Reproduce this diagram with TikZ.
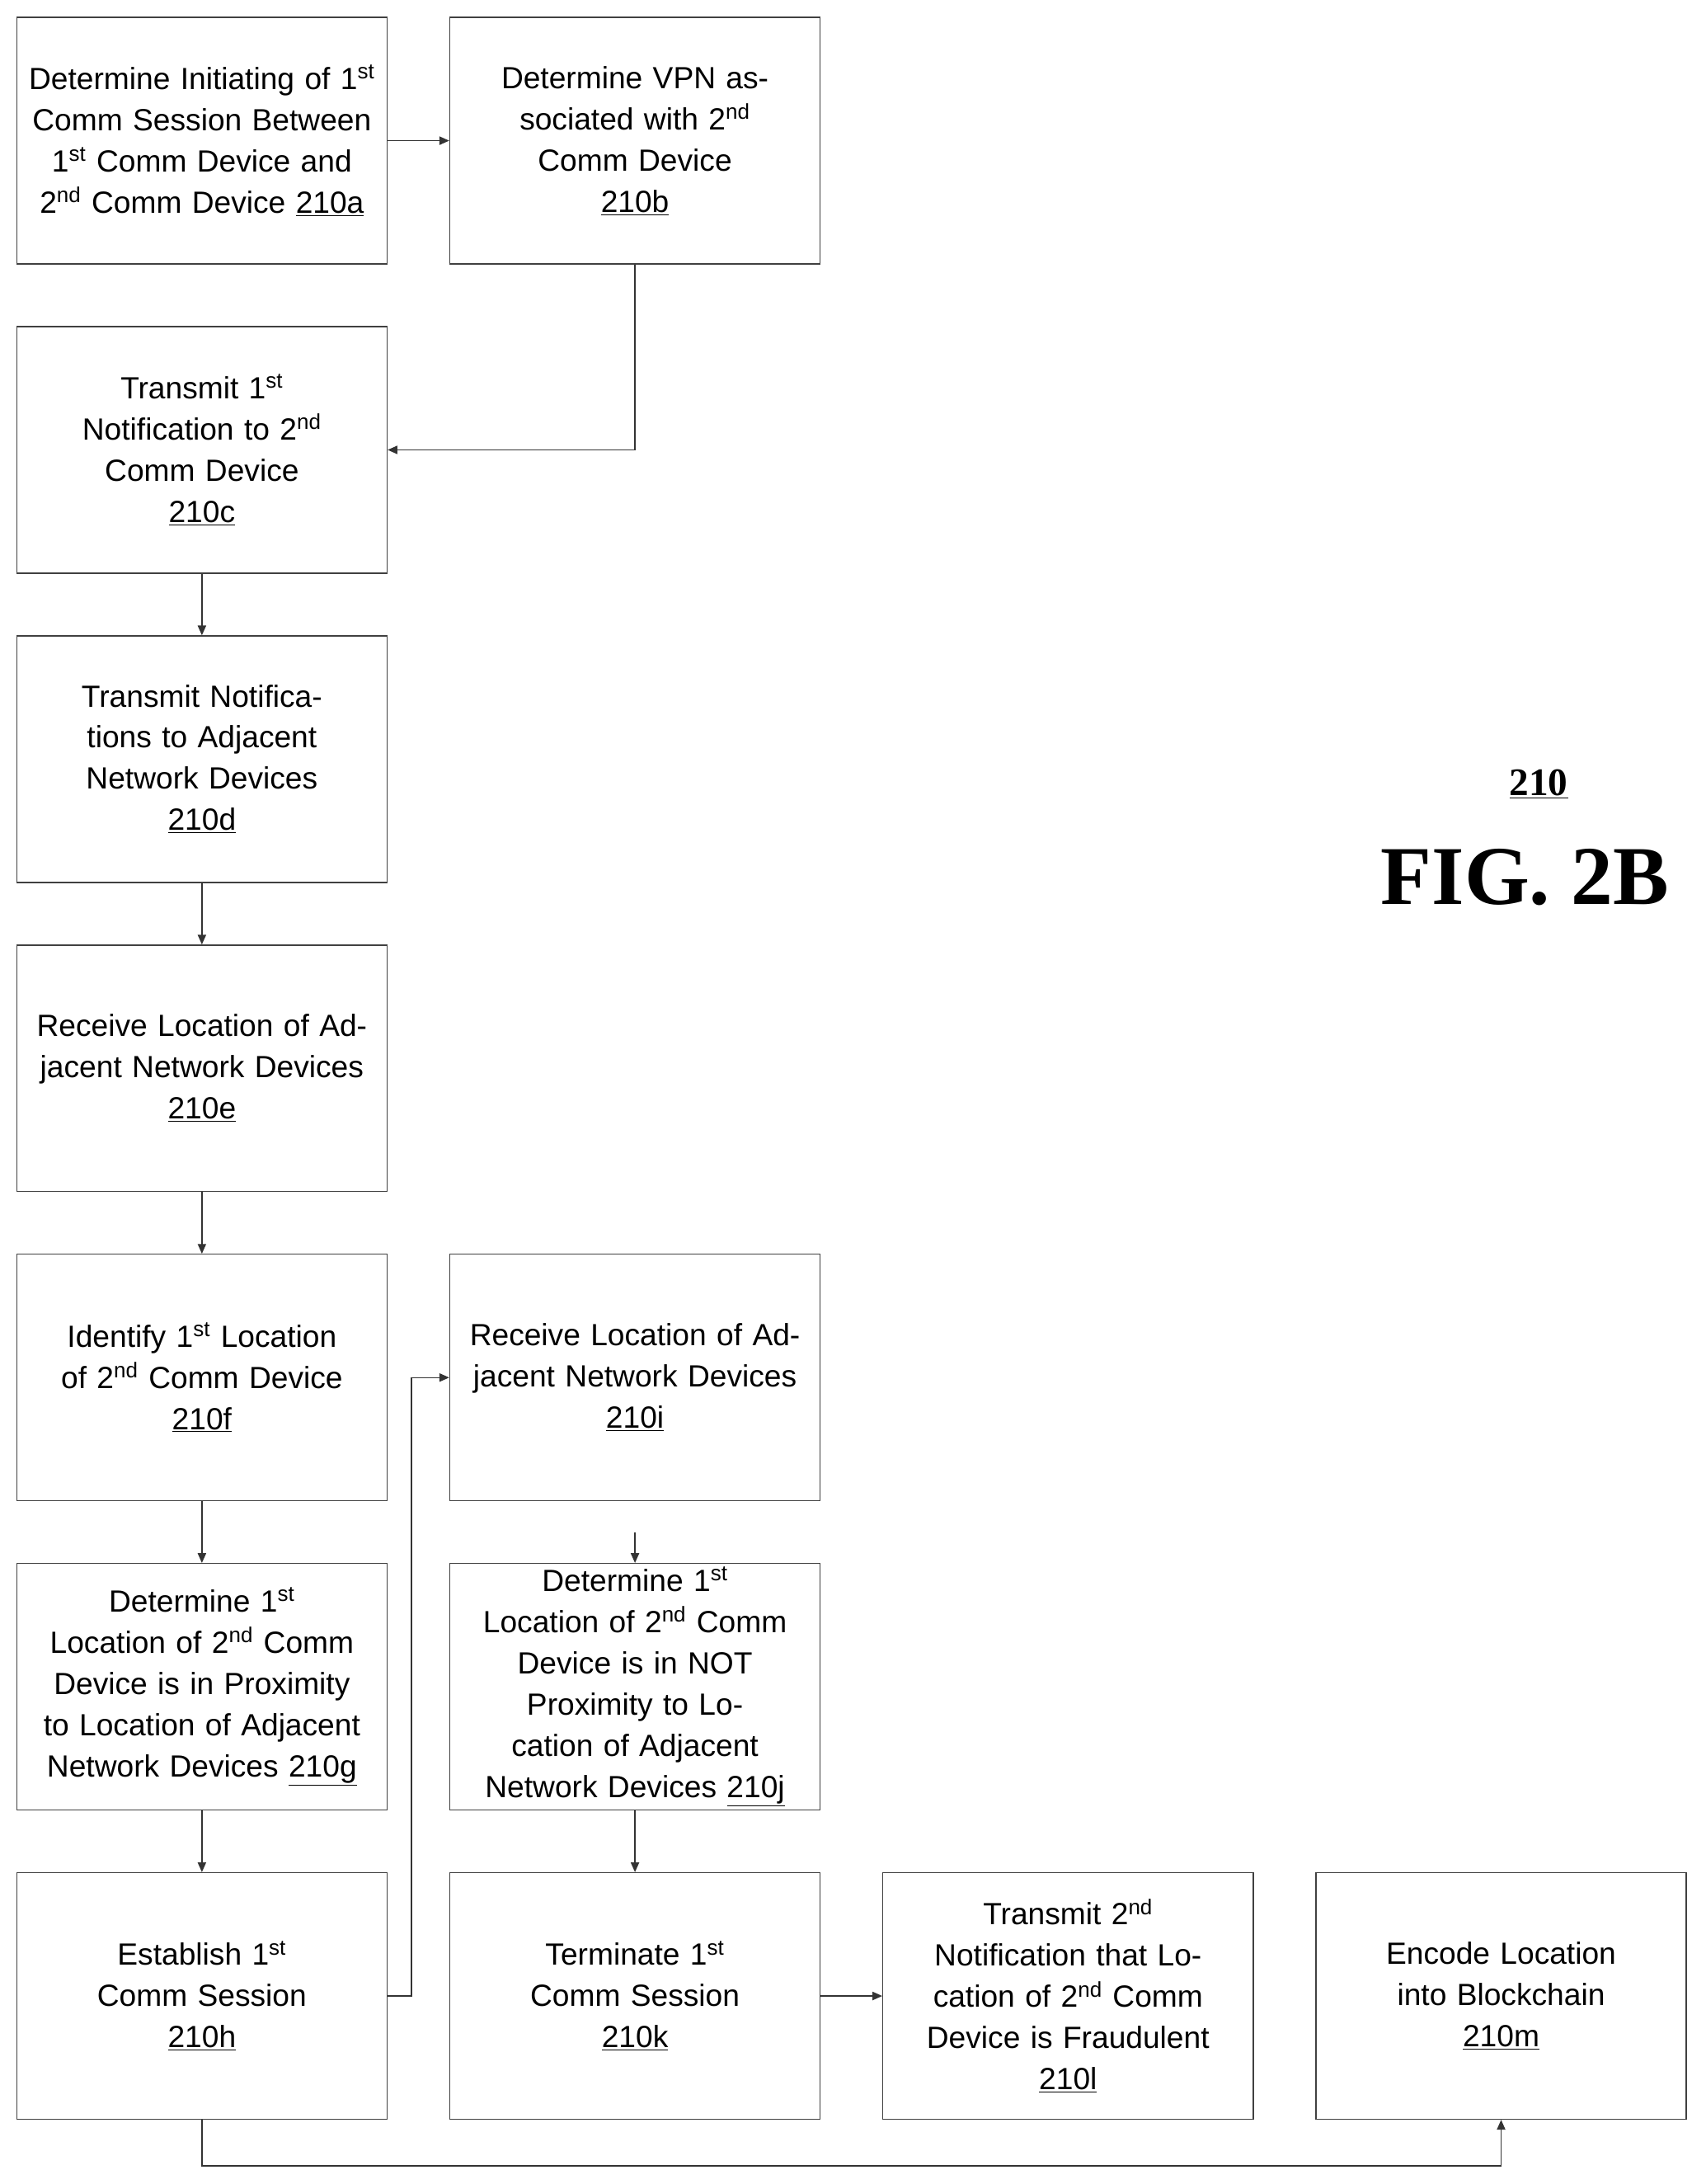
\documentclass[tikz,border=0pt]{standalone}
\usepackage{fontspec}
\setmainfont{Liberation Sans}
\newfontfamily\serifb{Liberation Serif}
\usetikzlibrary{arrows.meta}
\newcommand{\sps}[1]{\textsuperscript{#1}}
\newcommand{\uln}[1]{\underline{#1}}
\begin{document}
\begin{tikzpicture}[x=1pt,y=-1pt,
 box/.style={draw=black!75,line width=0.8pt,minimum width=266pt,minimum height=177pt,text width=250pt,align=center,inner sep=0pt,font=\fontsize{22}{29.6}\selectfont},
 ar/.style={draw=black!80,line width=0.8pt,-{Triangle[length=7pt,width=6pt]}}]
\useasboundingbox (0,0) rectangle (1225,1568);
\node[box] (a) at (145,101) {Determine Initiating of 1\sps{st} Comm Session Between 1\sps{st} Comm Device and 2\sps{nd} Comm Device \uln{210a}};
\node[box] (b) at (456,101) {Determine VPN associated with 2\sps{nd}\\ Comm Device\\ \uln{210b}};
\node[box] (c) at (145,323) {Transmit 1\sps{st}\\ Notification to 2\sps{nd}\\ Comm Device\\ \uln{210c}};
\node[box] (d) at (145,545) {Transmit Notifications to Adjacent Network Devices\\ \uln{210d}};
\node[box] (e) at (145,767) {Receive Location of Adjacent Network Devices\\ \uln{210e}};
\node[box] (f) at (145,989) {Identify 1\sps{st} Location of 2\sps{nd} Comm Device\\ \uln{210f}};
\node[box] (i) at (456,989) {Receive Location of Adjacent Network Devices\\ \uln{210i}};
\node[box] (g) at (145,1211) {Determine 1\sps{st}\\ Location of 2\sps{nd} Comm Device is in Proximity to Location of Adjacent Network Devices \uln{210g}};
\node[box] (j) at (456,1211) {Determine 1\sps{st}\\ Location of 2\sps{nd} Comm Device is in NOT Proximity to Location of Adjacent Network Devices \uln{210j}};
\node[box] (h) at (145,1433) {Establish 1\sps{st} Comm Session\\ \uln{210h}};
\node[box] (k) at (456,1433) {Terminate 1\sps{st} Comm Session\\ \uln{210k}};
\node[box] (l) at (767,1433) {Transmit 2\sps{nd}\\ Notification that Location of 2\sps{nd} Comm Device is Fraudulent\\ \uln{210l}};
\node[box] (m) at (1078,1433) {Encode Location into Blockchain\\ \uln{210m}};
\node[font=\serifb\bfseries\fontsize{28}{30}\selectfont] (lab) at (1105,563) {\uln{210}};
\node[font=\serifb\bfseries\fontsize{60}{64}\selectfont] (fig) at (1095,630) {FIG. 2B};
\draw[ar] (a) -- (b);
\draw[ar] (b.south) |- (c.east);
\draw[ar] (c) -- (d);
\draw[ar] (d) -- (e);
\draw[ar] (e) -- (f);
\draw[ar] (f) -- (g);
\draw[ar] (g) -- (h);
\draw[ar] (h.east) -- ++(17,0) |- (i.west);
\draw[ar] ([yshift=-22pt]i.south) -- (j.north);
\draw[ar] (j) -- (k);
\draw[ar] (k) -- (l);
\draw[ar] (h.south) -- ++(0,33) -| (m.south);
\end{tikzpicture}
\end{document}
